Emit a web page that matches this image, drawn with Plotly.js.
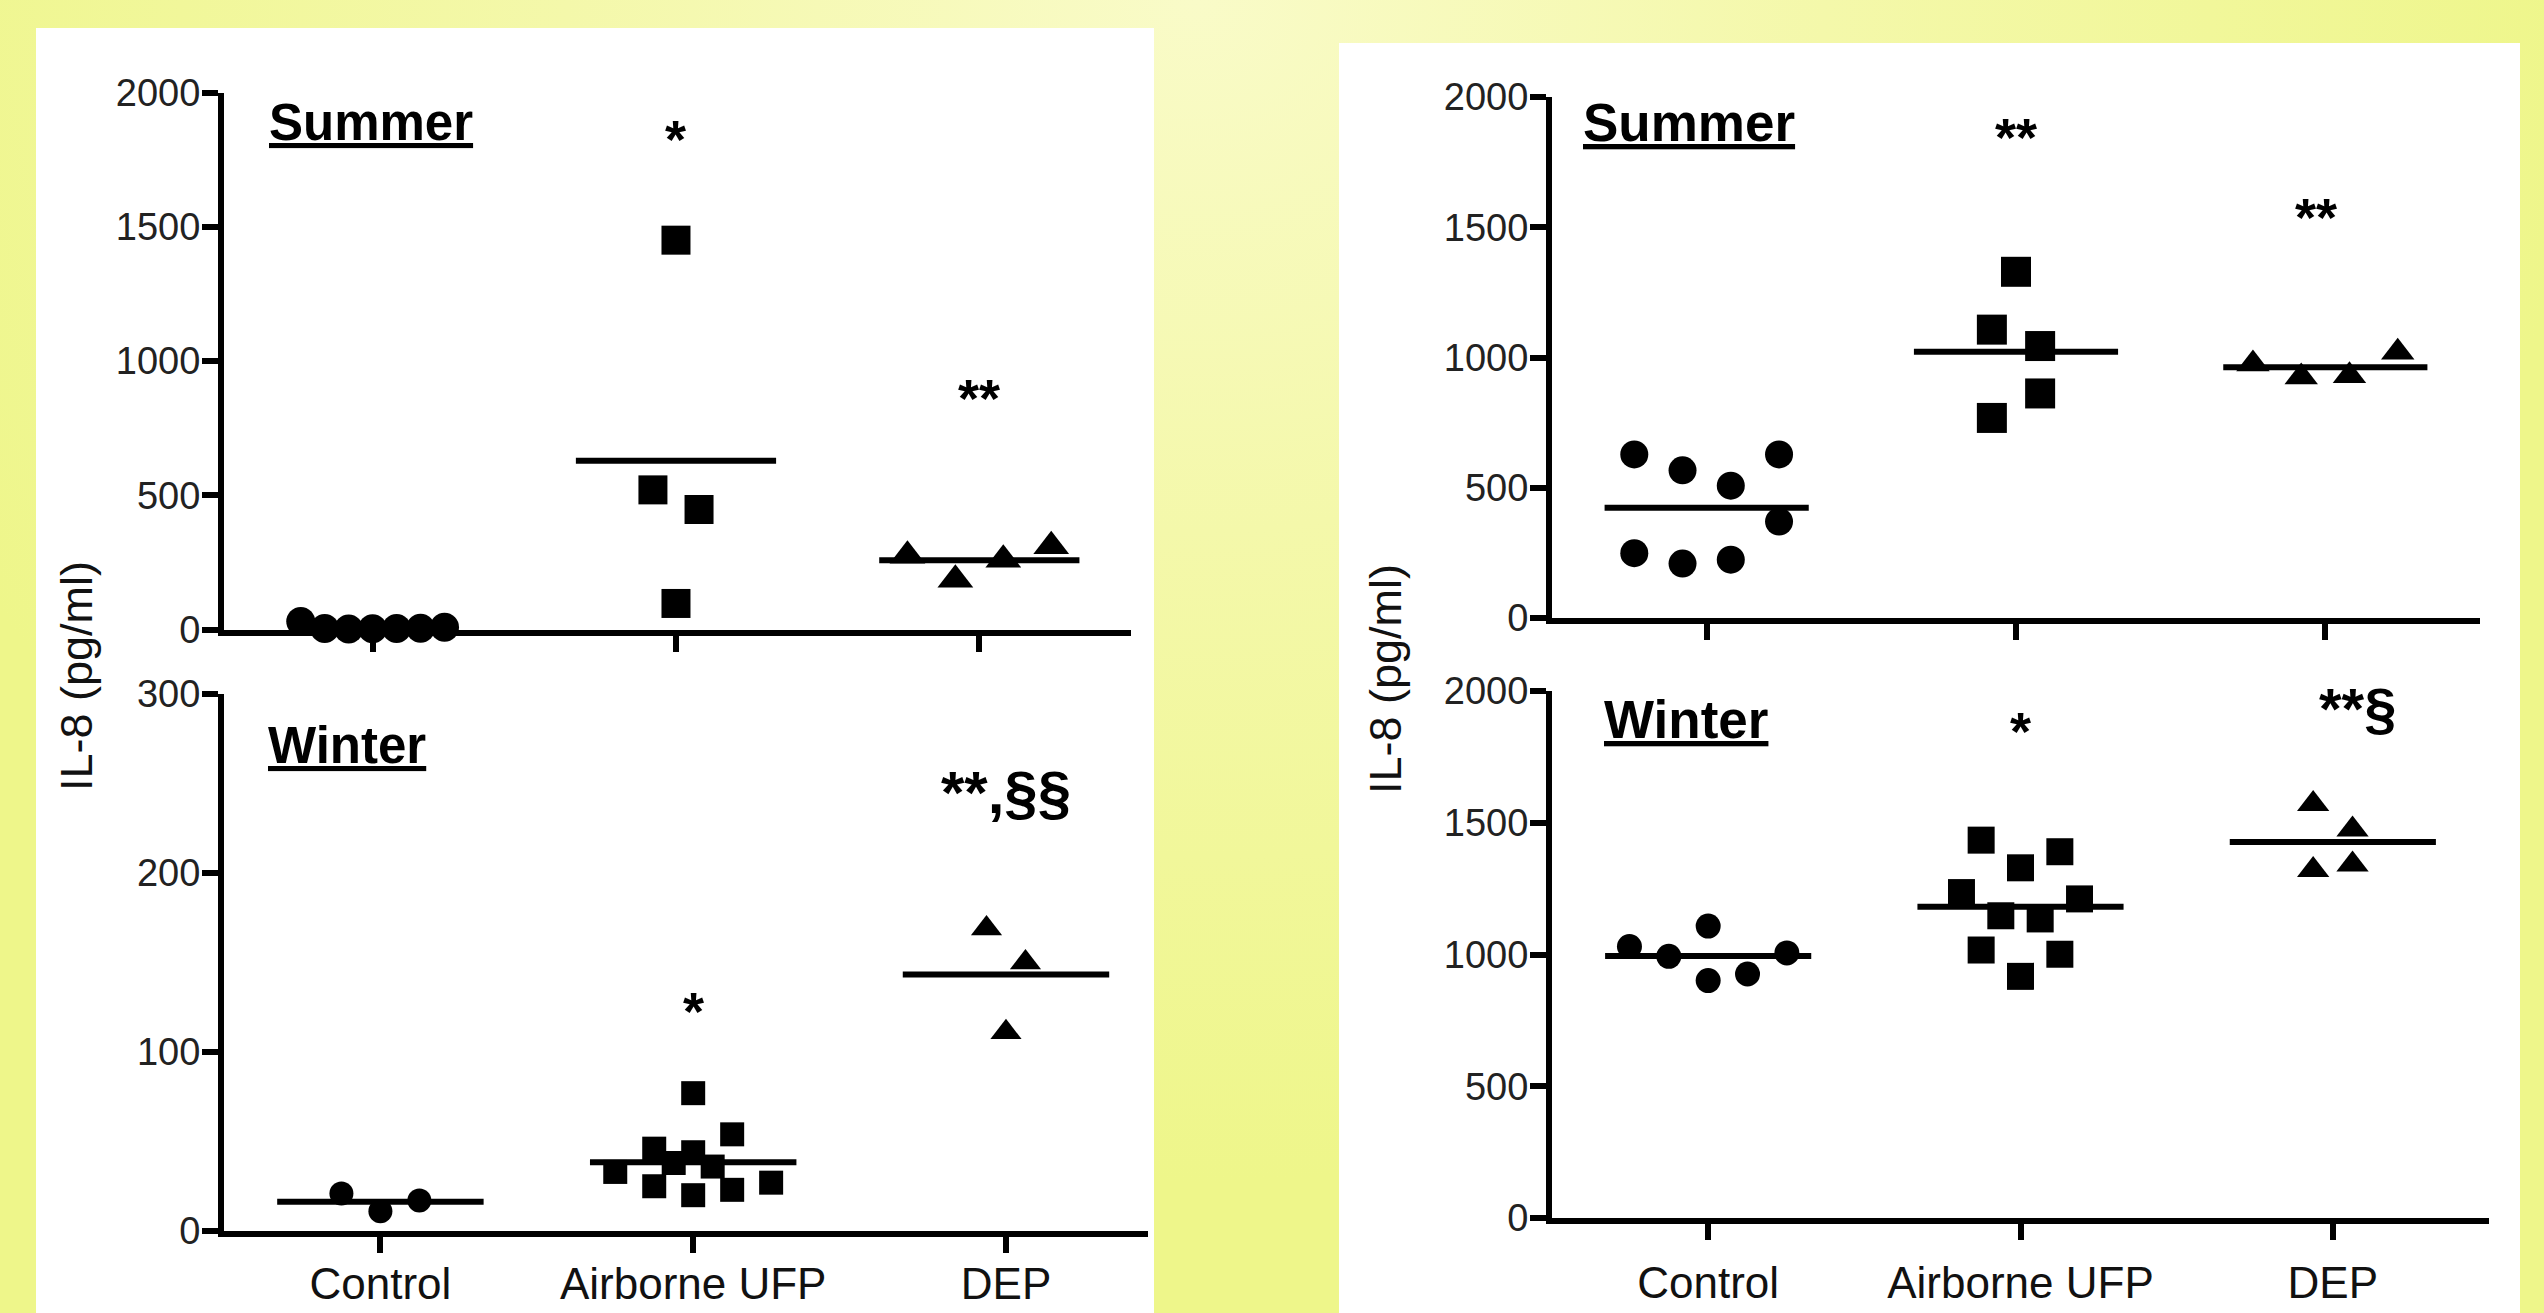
<!DOCTYPE html>
<html>
<head>
<meta charset="utf-8">
<script src="https://cdn.plot.ly/plotly-3.0.1.min.js"></script>
<style>
  html, body { margin: 0; padding: 0; }
  body {
    width: 2544px; height: 1313px; overflow: hidden;
    background: radial-gradient(ellipse 55% 90% at 47% 0%, #f9fbc8 0%, #f4f8aa 45%, #eef68a 100%);
  }
  #chart { width: 2544px; height: 1313px; }
</style>
</head>
<body>
<div id="chart"></div>
<script>
// ---------------- data ----------------
const categories = ['Control', 'Airborne UFP', 'DEP'];

// Left panel – Summer (IL-8, pg/ml)
const lsControl = [30, 4, 2, 3, 4, 5, 8];
const lsUFP     = [1450, 520, 447, 97];
const lsDEP     = [275, 185, 260, 310];
// Left panel – Winter
const lwControl = [21, 11, 17];
const lwUFP     = [77, 44, 20, 54, 23, 46, 25, 38, 36, 33, 27];
const lwDEP     = [169, 150, 111];
// Right panel – Summer
const rsControl = [628, 249, 567, 209, 508, 224, 628, 370];
const rsUFP     = [1107, 768, 1329, 1044, 862];
const rsDEP     = [975, 925, 930, 1020];
// Right panel – Winter
const rwControl = [1030, 993, 1108, 901, 926, 1006];
const rwUFP     = [1235, 1434, 1017, 1147, 1329, 917, 1135, 1390, 1001, 1211];
const rwDEP     = [1571, 1321, 1474, 1342];

const yTicksSummer  = [0, 500, 1000, 1500, 2000];
const yTicksWinterL = [0, 100, 200, 300];
const yTicksWinterR = [0, 500, 1000, 1500, 2000];

const panelLabels = ['Summer', 'Winter'];
const yTitle = 'IL-8 (pg/ml)';

// ---------------- layout helpers (scatter-plot column placement) ----------------
const slots = {
  lsControl: [-3, -2, -1, 0, 1, 2, 3],
  lsUFP:     [0, -1, 1, 0],
  lsDEP:     [-3, -1, 1, 3],
  lwControl: [-2, 0, 2],
  lwUFP:     [0, 0, 0, 2, 2, -2, -2, -1, 1, -4, 4],
  lwDEP:     [-1, 1, 0],
  rsControl: [-3, -3, -1, -1, 1, 1, 3, 3],
  rsUFP:     [-1, -1, 0, 1, 1],
  rsDEP:     [-3, -1, 1, 3],
  rwControl: [-4, -2, 0, 0, 2, 4],
  rwUFP:     [-3, -2, -2, -1, 0, 0, 1, 2, 2, 3],
  rwDEP:     [-1, -1, 1, 1]
};

const W = 2544, H = 1313;
const px = v => v / W;
const py = v => 1 - v / H;
const mean = a => a.reduce((s, v) => s + v, 0) / a.length;

const traces = [];
function addGroup(vals, slotArr, catIdx, unit, symbol, size, xa, ya, showMean) {
  traces.push({
    type: 'scatter', mode: 'markers',
    x: vals.map((v, i) => catIdx + slotArr[i] * unit),
    y: vals,
    xaxis: xa, yaxis: ya, cliponaxis: false, hoverinfo: 'skip',
    marker: { symbol: symbol, size: size, color: '#000', line: { width: 0 } }
  });
  if (showMean) {
    const m = mean(vals);
    traces.push({
      type: 'scatter', mode: 'lines',
      x: [catIdx - 0.33, catIdx + 0.33], y: [m, m],
      xaxis: xa, yaxis: ya, cliponaxis: false, hoverinfo: 'skip',
      line: { color: '#000', width: 6 }
    });
  }
}

// Left Summer (x / y)
addGroup(lsControl, slots.lsControl, 0, 0.079, 'circle', 29, 'x', 'y', false);
addGroup(lsUFP, slots.lsUFP, 1, 0.076, 'square', 29, 'x', 'y', true);
addGroup(lsDEP, slots.lsDEP, 2, 0.079, 'triangle-up', 31, 'x', 'y', true);
// Left Winter (x2 / y2)
addGroup(lwControl, slots.lwControl, 0, 0.0623, 'circle', 24, 'x2', 'y2', true);
addGroup(lwUFP, slots.lwUFP, 1, 0.0623, 'square', 24, 'x2', 'y2', true);
addGroup(lwDEP, slots.lwDEP, 2, 0.0623, 'triangle-up', 27, 'x2', 'y2', true);
// Right Summer (x3 / y3)
addGroup(rsControl, slots.rsControl, 0, 0.078, 'circle', 28, 'x3', 'y3', true);
addGroup(rsUFP, slots.rsUFP, 1, 0.078, 'square', 30, 'x3', 'y3', true);
addGroup(rsDEP, slots.rsDEP, 2, 0.078, 'triangle-up', 29, 'x3', 'y3', true);
// Right Winter (x4 / y4)
addGroup(rwControl, slots.rwControl, 0, 0.063, 'circle', 25, 'x4', 'y4', true);
addGroup(rwUFP, slots.rwUFP, 1, 0.063, 'square', 27, 'x4', 'y4', true);
addGroup(rwDEP, slots.rwDEP, 2, 0.063, 'triangle-up', 28, 'x4', 'y4', true);

const FONT = 'Liberation Sans, Arial, Helvetica, sans-serif';
const axBase = {
  showline: true, linecolor: '#000', linewidth: 6,
  ticks: 'outside', ticklen: 16, tickwidth: 6, tickcolor: '#000',
  showgrid: false, zeroline: false, fixedrange: true
};
const xCommon = (showLabels) => Object.assign({}, axBase, {
  tickmode: 'array', tickvals: [0, 1, 2], ticktext: categories,
  showticklabels: showLabels,
  tickfont: { family: FONT, size: 44, color: '#111' }
});
const yCommon = (tv) => Object.assign({}, axBase, {
  tickmode: 'array', tickvals: tv, ticktext: tv.map(String),
  ticklabelstandoff: -6,
  tickfont: { family: FONT, size: 38, color: '#222' }
});

const layout = {
  width: W, height: H,
  margin: { l: 0, r: 0, t: 0, b: 0 },
  paper_bgcolor: 'rgba(0,0,0,0)', plot_bgcolor: 'rgba(0,0,0,0)',
  showlegend: false,
  font: { family: FONT, color: '#111' },
  xaxis:  Object.assign(xCommon(false), { domain: [px(224), px(1131)], range: [-0.49, 2.5], anchor: 'y' }),
  yaxis:  Object.assign(yCommon(yTicksSummer), { domain: [py(629.5), py(92.5)], range: [0, 2000], anchor: 'x' }),
  xaxis2: Object.assign(xCommon(true), { domain: [px(224), px(1148)], range: [-0.5, 2.454], anchor: 'y2', ticklabelstandoff: -7 }),
  yaxis2: Object.assign(yCommon(yTicksWinterL), { domain: [py(1231), py(694)], range: [0, 300], anchor: 'x2' }),
  xaxis3: Object.assign(xCommon(false), { domain: [px(1552), px(2480)], range: [-0.5, 2.5], anchor: 'y3' }),
  yaxis3: Object.assign(yCommon(yTicksSummer), { domain: [py(618), py(97)], range: [0, 2000], anchor: 'x3' }),
  xaxis4: Object.assign(xCommon(true), { domain: [px(1552), px(2489)], range: [-0.5, 2.5], anchor: 'y4', ticklabelstandoff: 5 }),
  yaxis4: Object.assign(yCommon(yTicksWinterR), { domain: [py(1218), py(691)], range: [0, 2000], anchor: 'x4' }),
  shapes: [
    { type: 'rect', xref: 'paper', yref: 'paper', layer: 'below',
      x0: px(36), x1: px(1154), y0: py(1313), y1: py(28), fillcolor: '#fff', line: { width: 0 } },
    { type: 'rect', xref: 'paper', yref: 'paper', layer: 'below',
      x0: px(1339), x1: px(2520), y0: py(1313), y1: py(43), fillcolor: '#fff', line: { width: 0 } }
  ],
  annotations: []
};

const A = layout.annotations;
function label(text, x, yc, size) {
  A.push({ text: '<u>' + text + '</u>', xref: 'paper', yref: 'paper', x: px(x), y: py(yc),
    xanchor: 'left', yanchor: 'middle', showarrow: false,
    font: { family: FONT, size: size, color: '#000', weight: 'bold' } });
}
label(panelLabels[0], 267, 122, 51);
label(panelLabels[1], 266, 745, 51);
label(panelLabels[0], 1581, 122, 53);
label(panelLabels[1], 1602, 719, 53);

function ytitle(x, yc) {
  A.push({ text: yTitle, xref: 'paper', yref: 'paper', x: px(x), y: py(yc), textangle: -90,
    xanchor: 'center', yanchor: 'middle', showarrow: false,
    font: { family: FONT, size: 45, color: '#111' } });
}
ytitle(76, 676);
ytitle(1385, 679);

function sig(text, xref, yref, x, y, size) {
  A.push({ text: text, xref: xref, yref: yref, x: x, y: y, xanchor: 'center', yanchor: 'middle',
    showarrow: false, font: { family: FONT, size: size, color: '#000', weight: 'bold' } });
}
sig('*', 'x', 'y', 1, 1827, 54);
sig('**', 'x', 'y', 2, 862, 54);
sig('*', 'x2', 'y2', 1, 123, 54);
sig('**,§§', 'x2', 'y2', 2, 245, 60);
sig('**', 'x3', 'y3', 1, 1845, 54);
sig('**', 'x3', 'y3', 1.97, 1538, 54);
sig('*', 'x4', 'y4', 1, 1848, 54);
sig('**§', 'x4', 'y4', 2.08, 1932, 58);

Plotly.newPlot('chart', traces, layout, { staticPlot: true, displayModeBar: false });
</script>
</body>
</html>
